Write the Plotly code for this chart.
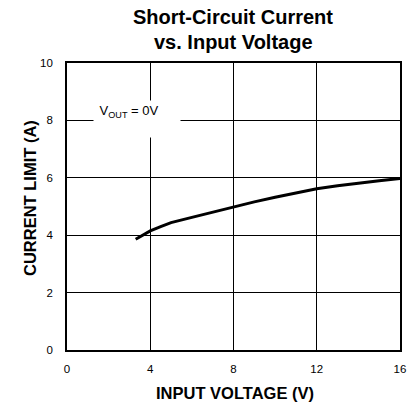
import plotly.graph_objects as go

input_voltage = [3.3, 3.6, 4.0, 4.5, 5.0, 6.0, 7.0, 8.0, 9.0, 10.0, 11.0, 12.0, 13.0, 14.0, 15.0, 16.0]
current_limit = [3.86, 3.98, 4.15, 4.30, 4.44, 4.62, 4.80, 4.99, 5.16, 5.32, 5.48, 5.62, 5.72, 5.82, 5.90, 5.98]
x_ticks = [0, 4, 8, 12, 16]
y_ticks = [0, 2, 4, 6, 8, 10]
title_lines = ["Short-Circuit Current", "vs. Input Voltage"]

fig = go.Figure()
fig.add_trace(go.Scatter(x=input_voltage, y=current_limit, mode="lines",
                         line=dict(color="black", width=3), showlegend=False))

font = "Liberation Sans, Arial, sans-serif"
W, H = 413, 405
ml, mt = 67, 63
mr = W - 400
mb = H - 350

def px(xr, yr):
    # reference-picture pixel -> paper coords
    return (xr - ml) / (W - ml - mr), (H - mb - yr) / (H - mt - mb)

annots = []
for line, yc in zip(title_lines, [17, 42]):
    xp, yp = px(233, yc)
    annots.append(dict(x=xp, y=yp, xref="paper", yref="paper", text="<b>%s</b>" % line,
                       showarrow=False, xanchor="center", yanchor="middle",
                       font=dict(size=20, color="black", family=font)))
xp, yp = px(235, 393)
annots.append(dict(x=xp, y=yp, xref="paper", yref="paper", text="<b>INPUT VOLTAGE (V)</b>",
                   showarrow=False, xanchor="center", yanchor="middle",
                   font=dict(size=16.5, color="black", family=font)))
xp, yp = px(30, 198)
annots.append(dict(x=xp, y=yp, xref="paper", yref="paper", text="<b>CURRENT LIMIT (A)</b>",
                   showarrow=False, xanchor="center", yanchor="middle", textangle=-90,
                   font=dict(size=16.5, color="black", family=font)))
annots.append(dict(x=3.34, y=8.05, xref="x", yref="y", text="&nbsp;V<sub>OUT</sub> = 0V",
                   showarrow=False, bgcolor="white", font=dict(size=13, family=font, color="black"),
                   width=82, height=32, align="left", valign="top", borderpad=2))

fig.update_layout(
    width=W, height=H,
    margin=dict(l=ml, r=mr, t=mt, b=mb, autoexpand=False),
    paper_bgcolor="white", plot_bgcolor="white",
    font=dict(family=font, color="black", size=11.5),
    xaxis=dict(range=[0, 16], tickvals=x_ticks, showgrid=True, gridcolor="black", gridwidth=1.2,
               showline=True, linecolor="black", linewidth=1.8, mirror=True, zeroline=False,
               ticks="", ticklabelstandoff=7, automargin=False),
    yaxis=dict(range=[0, 10], tickvals=y_ticks, showgrid=True, gridcolor="black", gridwidth=1.2,
               showline=True, linecolor="black", linewidth=1.8, mirror=True, zeroline=False,
               ticks="", ticklabelstandoff=10, automargin=False),
    annotations=annots,
)
fig.write_html("out.html", config={"displayModeBar": False},
               post_script="document.body.style.margin='0px';document.body.style.overflow='hidden';")
